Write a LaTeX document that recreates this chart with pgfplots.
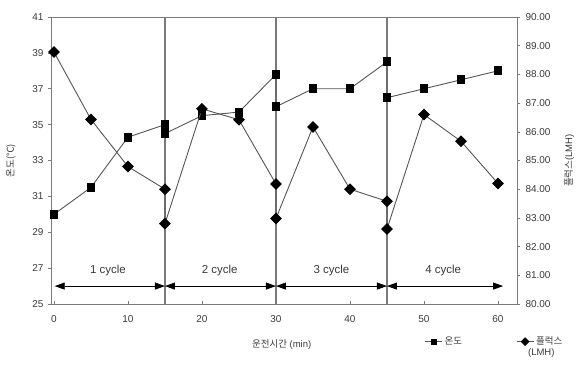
\documentclass[border=0pt]{standalone}
\usepackage{pgfplots}
\pgfplotsset{compat=1.18}
\usepackage{fontspec}
\setmainfont{Liberation Sans}
\newfontfamily\kr{Noto Sans CJK KR}
\usetikzlibrary{arrows.meta}
\definecolor{txt}{HTML}{3A3A3A}
\definecolor{ln}{HTML}{555555}
\definecolor{fr}{HTML}{7A7A7A}
\begin{document}
\fontsize{10pt}{12pt}\selectfont
\begin{tikzpicture}
\useasboundingbox (0,0) rectangle (576pt,368pt);
\begin{axis}[
  at={(51pt,64pt)}, anchor=south west,
  scale only axis, width=466pt, height=287pt,
  xmin=-0.4, xmax=62.57, ymin=25, ymax=41,
  xtick={0,10,20,30,40,50,60},
  ytick={25,27,29,31,33,35,37,39,41},
  xtick pos=bottom, ytick pos=left,
  tick align=outside, major tick length=3pt,
  major x tick style={yshift=3pt, line width=0.6pt, fr},
  major y tick style={line width=0.6pt, fr},
  axis line style={fr, line width=1pt},
  /pgf/number format/assume math mode=true,
  ticklabel style={font=\fontsize{10pt}{12pt}\selectfont, text=txt},
  xticklabel style={yshift=-5pt},
  yticklabel style={xshift=-1pt},
  xlabel={{\kr 운전시간} (min)},
  xlabel style={at={(axis description cs:0.495,-0.143)}, anchor=center, font=\fontsize{9.5pt}{11pt}\selectfont, text=txt},
  ylabel={{\kr 온도(℃)}},
  ylabel style={at={(axis description cs:-0.086,0.5)}, anchor=center, rotate=0, font=\fontsize{9.5pt}{11pt}\selectfont, text=txt},
  clip=false,
]
\draw[fr, line width=1.3pt] (axis cs:15,25) -- (axis cs:15,41);
\draw[fr, line width=1.3pt] (axis cs:30,25) -- (axis cs:30,41);
\draw[fr, line width=1.3pt] (axis cs:45,25) -- (axis cs:45,41);
\addplot[ln, line width=0.9pt, mark=square*, mark size=3.9pt, mark options={fill=black, draw=black}] coordinates {
 (0,30.0) (5,31.5) (10,34.3) (15,35.0) (15,34.5) (20,35.5) (25,35.7) (30,37.8)
 (30,36.0) (35,37.0) (40,37.0) (45,38.5) (45,36.5) (50,37.0) (55,37.5) (60,38.0)};
\draw[black, line width=0.8pt, {Triangle[length=10pt,width=7pt]}-{Triangle[length=10pt,width=7pt]}] (axis cs:0.1,26) -- (axis cs:15,26);
\draw[black, line width=0.8pt, {Triangle[length=10pt,width=7pt]}-{Triangle[length=10pt,width=7pt]}] (axis cs:15,26) -- (axis cs:30,26);
\draw[black, line width=0.8pt, {Triangle[length=10pt,width=7pt]}-{Triangle[length=10pt,width=7pt]}] (axis cs:30,26) -- (axis cs:45,26);
\draw[black, line width=0.8pt, {Triangle[length=10pt,width=7pt]}-{Triangle[length=10pt,width=7pt]}] (axis cs:45,26) -- (axis cs:60.7,26);
\node[text=txt, font=\fontsize{11.5pt}{13pt}\selectfont] at (axis cs:7.3,26.85) {1 cycle};
\node[text=txt, font=\fontsize{11.5pt}{13pt}\selectfont] at (axis cs:22.4,26.85) {2 cycle};
\node[text=txt, font=\fontsize{11.5pt}{13pt}\selectfont] at (axis cs:37.5,26.85) {3 cycle};
\node[text=txt, font=\fontsize{11.5pt}{13pt}\selectfont] at (axis cs:52.6,26.85) {4 cycle};
\end{axis}
\begin{axis}[
  at={(51pt,64pt)}, anchor=south west,
  scale only axis, width=466pt, height=287pt,
  xmin=-0.4, xmax=62.57, ymin=80, ymax=90,
  axis x line=none, axis y line*=right,
  ytick={80,81,...,90},
  tick align=outside, major tick length=3pt,
  major y tick style={line width=0.6pt, fr},
  axis line style={fr, line width=1pt},
  /pgf/number format/assume math mode=true,
  /pgf/number format/.cd, fixed, fixed zerofill, precision=2, /pgfplots/.cd,
  ticklabel style={font=\fontsize{10pt}{12pt}\selectfont, text=txt},
  yticklabel style={xshift=2pt},
  ylabel={{\kr 플럭스}(LMH)},
  ylabel style={at={(axis description cs:1.112,0.5)}, anchor=center, rotate=0, font=\fontsize{9.5pt}{11pt}\selectfont, text=txt},
  legend columns=2,
  legend style={draw=none, fill=none, at={(axis description cs:0.795,-0.1)}, anchor=north west,
    font=\fontsize{9.5pt}{11pt}\selectfont, text=txt,
    /tikz/every even column/.append style={column sep=52pt}},
  legend image post style={mark size=2.6pt},
  legend cell align=left,
  clip=false,
]
\addlegendimage{ln, line width=0.9pt, mark=square*, mark options={fill=black, draw=black}}
\addlegendentry{{\kr 온도}}
\addplot[ln, line width=0.9pt, mark=square*, mark size=3.7pt, mark options={fill=black, draw=black, rotate=45}] coordinates {
 (0,88.78) (5,86.43) (10,84.79) (15,84.0) (15,82.8) (20,86.8) (25,86.42) (30,84.18)
 (30,82.98) (35,86.17) (40,84.0) (45,83.58) (45,82.61) (50,86.6) (55,85.67) (60,84.2)};
\addlegendentry{\begin{tabular}[t]{@{}l@{}}{\kr 플럭스}\\\hspace*{-8pt}(LMH)\end{tabular}}
\end{axis}
\end{tikzpicture}
\end{document}
